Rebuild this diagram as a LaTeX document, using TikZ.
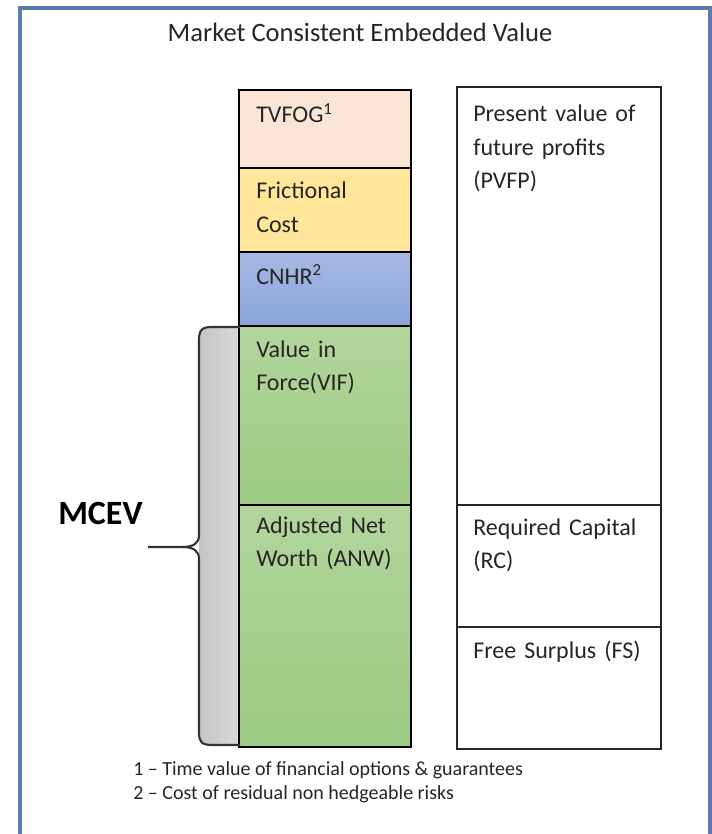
\documentclass[tikz,border=0pt]{standalone}
\usepackage{fontspec}
\setmainfont{Carlito}
\definecolor{frame}{HTML}{5B7BB4}
\definecolor{peach}{HTML}{FBE5D6}
\definecolor{gold}{HTML}{FFE699}
\definecolor{blueT}{HTML}{A7B8E2}
\definecolor{blueB}{HTML}{8AA4DB}
\definecolor{greenT}{HTML}{B2D59C}
\definecolor{greenB}{HTML}{9ECB83}
\definecolor{braceT}{HTML}{C4C4C4}
\definecolor{braceF}{HTML}{DADADA}
\definecolor{txt}{HTML}{262626}
\begin{document}
\begin{tikzpicture}[x=0.75pt,y=-0.75pt,
  boxline/.style={draw=black,line width=1.6pt},
  rboxline/.style={draw=black!85,line width=1.5pt},
  lbl/.style={anchor=base west,align=left,inner sep=0pt,text width=140pt,
    text=txt,font=\fontsize{18}{24.8}\selectfont},
  note/.style={anchor=base west,inner sep=0pt,text=txt,font=\fontsize{15}{17}\selectfont}]
\useasboundingbox (0,0) rectangle (711,834);
\fill[white] (0,0) rectangle (711,834);
% outer frame
\draw[frame,line width=2.3pt] (20,834) -- (20,8) -- (710,8) -- (710,834);
% title
\node[anchor=base,inner sep=0pt,text=txt,font=\fontsize{19.9}{22}\selectfont] (title) at (360,42) {Market Consistent Embedded Value};
% brace fill
\shade[left color=braceT,right color=braceF] (240,327) -- (212,327) .. controls (202,327) and (199,330) .. (199,340)
  -- (199,733) .. controls (199,742) and (202,745) .. (212,745) -- (240,745) -- cycle;
% left column
\fill[peach] (239,90) rectangle (411,168);
\fill[gold] (239,168) rectangle (411,252);
\shade[top color=blueT,bottom color=blueB] (239,252) rectangle (411,326);
\shade[top color=greenT,bottom color=greenB] (239,326) rectangle (411,505);
\shade[top color=greenT,bottom color=greenB] (239,505) rectangle (411,747);
\draw[boxline] (239,90) rectangle (411,168);
\draw[boxline] (239,168) rectangle (411,252);
\draw[boxline] (239,252) rectangle (411,326);
\draw[boxline] (239,326) rectangle (411,505);
\draw[boxline] (239,505) rectangle (411,747);
% right column
\draw[rboxline] (457,87) rectangle (661,505);
\draw[rboxline] (457,505) rectangle (661,627);
\draw[rboxline] (457,627) rectangle (661,749);
% brace line
\coordinate (btop) at (240,327);
\coordinate (bbot) at (240,745);
\coordinate (btip) at (148,547);
\draw[black!80,line width=1.6pt,line join=round] (btop) -- (212,327) .. controls (202,327) and (199,330) .. (199,340)
  -- (199,535) .. controls (199,543) and (194,547) .. (182,547) -- (btip);
\draw[black!80,line width=1.6pt,line join=round] (182,547) .. controls (194,547) and (199,551) .. (199,559)
  -- (199,733) .. controls (199,742) and (202,745) .. (212,745) -- (bbot);
% labels
\node[lbl] (tvfog) at (256,123) {TVFOG\textsuperscript{1}};
\node[lbl] (fric) at (256,199) {Frictional\\Cost};
\node[lbl] (cnhr) at (256,284) {CNHR\textsuperscript{2}};
\node[lbl] (vif) at (256,357) {Value in\\Force(VIF)};
\node[lbl] (anw) at (256,533) {Adjusted Net\\Worth (ANW)};
\node[lbl] (pvfp) at (473,122) {Present value of\\future profits\\(PVFP)};
\node[lbl] (rc) at (473,535) {Required Capital\\(RC)};
\node[lbl] (fs) at (473,658) {Free Surplus (FS)};
\node[anchor=base west,inner sep=0pt,font=\bfseries\fontsize{25.5}{28}\selectfont] (mcev) at (58,524) {MCEV};
\node[note] (n1) at (133,775) {1 – Time value of financial options \& guarantees};
\node[note] (n2) at (133,799) {2 – Cost of residual non hedgeable risks};
\end{tikzpicture}
\end{document}
